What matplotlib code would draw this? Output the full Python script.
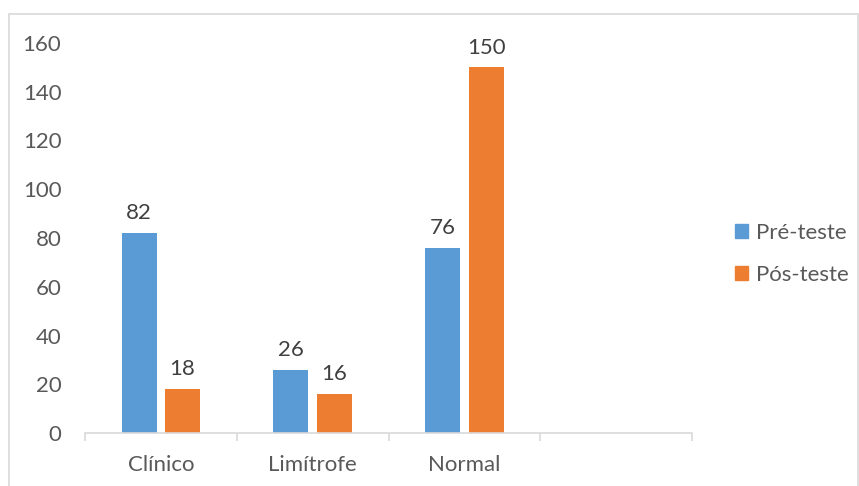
import matplotlib
matplotlib.use("Agg")
import matplotlib.pyplot as plt
from matplotlib.patches import Rectangle

categories = ["Clínico", "Limítrofe", "Normal", ""]
pre_teste = [82, 26, 76]
pos_teste = [18, 16, 150]
series_names = ["Pré-teste", "Pós-teste"]
y_ticks = [0, 20, 40, 60, 80, 100, 120, 140, 160]

plt.rcParams['font.family'] = ['Lato', 'DejaVu Sans']

W, H = 859, 486
fig = plt.figure(figsize=(W / 100, H / 100), dpi=100)
fig.patch.set_facecolor("white")

# outer chart border
fig.patches.append(Rectangle((9 / W, -0.05), (858 - 9) / W, 1.05 - 14 / H,
                             transform=fig.transFigure, fill=False,
                             edgecolor="#D9D9D9", linewidth=1.2))

ax = fig.add_axes([85 / W, 1 - 433 / H, (692 - 85) / W, (433 - 43) / H])

blue = "#5B9BD5"
orange = "#ED7D31"
w = 0.23
off = 0.143
fs = 16
xs = list(range(len(pre_teste)))
b1 = ax.bar([x - off for x in xs], pre_teste, width=w, color=blue, label=series_names[0])
b2 = ax.bar([x + off for x in xs], pos_teste, width=w, color=orange, label=series_names[1])

for bars, vals in ((b1, pre_teste), (b2, pos_teste)):
    for r, v in zip(bars, vals):
        ax.annotate(str(v), (r.get_x() + r.get_width() / 2, v), xytext=(0, 7),
                    textcoords="offset points", ha="center", va="bottom",
                    fontsize=fs, color="#404040")

ax.set_xlim(-0.5, len(categories) - 0.5)
ax.set_ylim(0, 160)
ax.set_yticks(y_ticks)
ax.set_xticks(range(len(categories)))
ax.set_xticklabels(categories)
ax.set_xticks([i - 0.5 for i in range(len(categories) + 1)], minor=True)
ax.tick_params(axis="x", which="major", length=0, pad=16, labelsize=fs, labelcolor="#595959")
ax.tick_params(axis="x", which="minor", length=6, width=1.2, color="#D9D9D9")
ax.tick_params(axis="y", length=0, pad=17, labelsize=fs, labelcolor="#595959")

for s in ("top", "right", "left"):
    ax.spines[s].set_visible(False)
ax.spines["bottom"].set_color("#D9D9D9")
ax.spines["bottom"].set_linewidth(1.2)

handles = [Rectangle((0, 0), 1, 1, color=blue), Rectangle((0, 0), 1, 1, color=orange)]
leg = fig.legend(handles, series_names, loc="center left",
                 bbox_to_anchor=(715 / W, 1 - 254 / H), frameon=False,
                 fontsize=fs, labelcolor="#595959", handlelength=0.6,
                 handleheight=0.6, handletextpad=0.35, labelspacing=1.0)

fig.savefig("out.png", dpi=100)
